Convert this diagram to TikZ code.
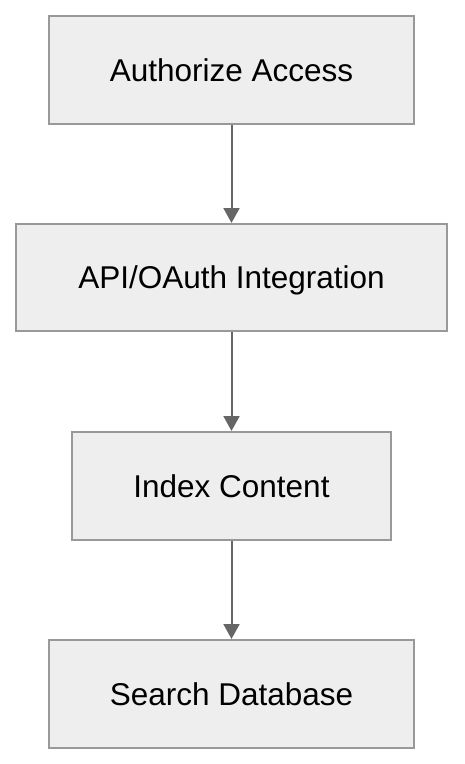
\documentclass[tikz,border=0pt]{standalone}
\usepackage{fontspec}
\setmainfont{Liberation Sans}
\usetikzlibrary{arrows.meta}
\definecolor{boxfill}{HTML}{EEEEEE}
\definecolor{boxline}{HTML}{999999}
\definecolor{arrowcol}{HTML}{666666}
\begin{document}
\begin{tikzpicture}[x=1pt,y=1pt,
  stepbox/.style={draw=boxline, line width=2pt, fill=boxfill, inner sep=0pt,
    font=\fontsize{31.5}{36}\selectfont, text=black, text height=22pt, text depth=0pt},
  conn/.style={draw=arrowcol, line width=2pt, -{Triangle[length=15pt,width=16pt]}}]
\useasboundingbox (0,0) rectangle (464,-764);
\node[stepbox, minimum width=365pt, minimum height=108pt] (a) at (231.5,-70) {Authorize Access};
\node[stepbox, minimum width=431pt, minimum height=107pt] (b) at (231.5,-277.5) {API/OAuth Integration};
\node[stepbox, minimum width=319pt, minimum height=108pt] (c) at (231.5,-486) {Index Content};
\node[stepbox, minimum width=365pt, minimum height=108pt] (d) at (231.5,-694) {Search Database};
\draw[conn] (a.south) -- (b.north);
\draw[conn] (b.south) -- (c.north);
\draw[conn] (c.south) -- (d.north);
\end{tikzpicture}
\end{document}
